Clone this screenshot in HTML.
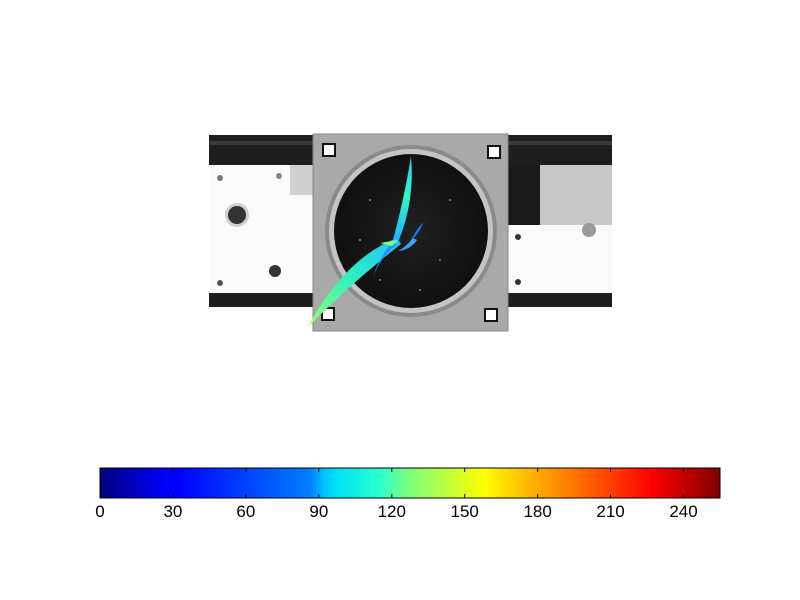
<!DOCTYPE html>
<html><head><meta charset="utf-8"><style>
html,body{margin:0;padding:0;background:#fff;width:800px;height:600px;overflow:hidden}
svg{display:block;font-family:"Liberation Sans","DejaVu Sans",sans-serif}
</style></head><body>
<svg id="fig" width="800" height="600" viewBox="0 0 800 600">
<defs>
<linearGradient id="jet" x1="0" x2="1" y1="0" y2="0">
<stop offset="0" stop-color="#00007f"/><stop offset="0.11" stop-color="#0000ff"/>
<stop offset="0.125" stop-color="#0000ff"/><stop offset="0.34" stop-color="#0080ff"/>
<stop offset="0.36" stop-color="#00bfff"/><stop offset="0.38" stop-color="#00e0f5"/>
<stop offset="0.45" stop-color="#2affd0"/><stop offset="0.5" stop-color="#7dff7a"/>
<stop offset="0.62" stop-color="#ffff00"/><stop offset="0.66" stop-color="#ffd400"/>
<stop offset="0.77" stop-color="#ff7000"/><stop offset="0.89" stop-color="#ff0000"/>
<stop offset="1" stop-color="#7f0000"/></linearGradient>
<radialGradient id="soil" cx="0.5" cy="0.5" r="0.5"><stop offset="0" stop-color="#202020"/><stop offset="1" stop-color="#101010"/></radialGradient>
<linearGradient id="leafg" x1="0" y1="1" x2="1" y2="0"><stop offset="0" stop-color="#ffff40"/><stop offset="0.1" stop-color="#80ff80"/><stop offset="0.5" stop-color="#30f0c0"/><stop offset="1" stop-color="#20c0ff"/></linearGradient>
<linearGradient id="leafv" x1="0" y1="0" x2="0" y2="1"><stop offset="0" stop-color="#30d0ff"/><stop offset="0.5" stop-color="#30f5c0"/><stop offset="1" stop-color="#20b0ff"/></linearGradient>
</defs>
<g>
<rect x="209" y="135" width="403" height="30" fill="#1e1e1e"/>
<rect x="209" y="141" width="403" height="4" fill="#3a3a3a"/>
<rect x="209" y="165" width="104" height="128" fill="#fafafa"/>
<rect x="290" y="165" width="23" height="30" fill="#cfcfcf"/>
<rect x="508" y="165" width="32" height="60" fill="#1a1a1a"/>
<rect x="540" y="165" width="72" height="60" fill="#c8c8c8"/>
<rect x="508" y="225" width="104" height="68" fill="#fafafa"/>
<rect x="209" y="293" width="403" height="14" fill="#1e1e1e"/>
<circle cx="237" cy="215" r="12" fill="#cfcfcf"/><circle cx="237" cy="215" r="9" fill="#333"/>
<circle cx="275" cy="271" r="6" fill="#333"/>
<circle cx="220" cy="178" r="3" fill="#777"/><circle cx="279" cy="176" r="3" fill="#888"/>
<circle cx="220" cy="283" r="3" fill="#555"/><circle cx="589" cy="230" r="7" fill="#999"/>
<circle cx="518" cy="237" r="3" fill="#333"/><circle cx="518" cy="282" r="3" fill="#333"/>
<rect x="313" y="134" width="195" height="197" fill="#a9a9a9" stroke="#888"/>
<circle cx="411" cy="231" r="86" fill="#8a8a8a"/>
<circle cx="411" cy="231" r="82" fill="#c4c4c4"/>
<circle cx="411" cy="231" r="77" fill="url(#soil)"/>
<g fill="#888"><circle cx="370" cy="200" r="1"/><circle cx="440" cy="260" r="1"/><circle cx="420" cy="290" r="1"/><circle cx="380" cy="280" r="1"/><circle cx="450" cy="200" r="1"/><circle cx="360" cy="240" r="1"/></g>
<g fill="#fff" stroke="#111" stroke-width="2">
<rect x="323" y="144" width="12" height="12"/><rect x="488" y="146" width="12" height="12"/>
<rect x="322" y="308" width="12" height="12"/><rect x="485" y="309" width="12" height="12"/></g>
<g>
<path d="M411,156 Q415,200 399,240 L393,240 Q405,195 411,156Z" fill="url(#leafv)"/>
<path d="M397,238 Q345,258 307,328 Q350,284 401,244Z" fill="url(#leafg)"/>
<path d="M392,242 Q378,260 373,277 Q380,258 396,245Z" fill="#2090ff"/>
<path d="M413,238 Q405,248 398,251 Q410,250 417,240Z" fill="#40a0ff"/>
<path d="M423,222 Q415,232 411,240 Q420,233 423,222Z" fill="#1080ff"/>
<path d="M380,243 L398,240 L392,246Z" fill="#80ff80"/>
</g></g>
<g id="cbar">
<rect x="100" y="468" width="620" height="30" fill="url(#jet)" stroke="#000" stroke-width="1"/>
</g>
<script>
const tickValues=[0,30,60,90,120,150,180,210,240];
const vmin=0, vmax=255;
const x0=100, x1=720;
function xScale(v){return x0+(v-vmin)/(vmax-vmin)*(x1-x0);}
const ns="http://www.w3.org/2000/svg";
const g=document.getElementById('cbar');
tickValues.forEach(v=>{
  const x=xScale(v);
  [[468,472],[494,498]].forEach(([a,b])=>{
    const l=document.createElementNS(ns,'line');
    l.setAttribute('x1',x);l.setAttribute('x2',x);l.setAttribute('y1',a);l.setAttribute('y2',b);
    l.setAttribute('stroke','#000');
    
    
    g.appendChild(l);
  });
  const t=document.createElementNS(ns,'text');
  t.setAttribute('x',x);t.setAttribute('y',517);t.setAttribute('text-anchor','middle');
  t.setAttribute('font-size','17');
  t.textContent=v;
  
  
  g.appendChild(t);
});
</script>
</svg>
</body></html>
